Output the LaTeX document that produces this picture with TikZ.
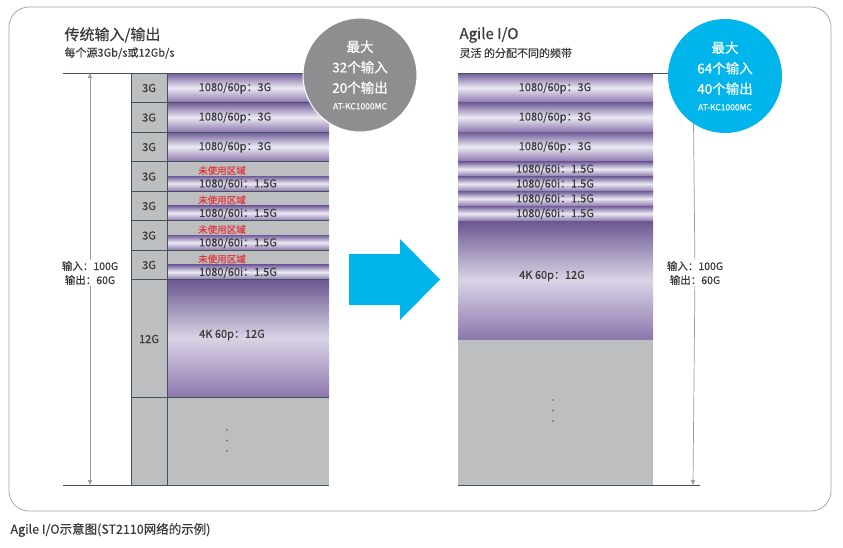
\documentclass[tikz,border=0pt]{standalone}
\usepackage{fontspec}
\setmainfont{Noto Sans CJK SC}[FakeBold=0.5]
\usetikzlibrary{arrows.meta}

\definecolor{bandDark}{HTML}{6F5B98}
\definecolor{bandLight}{HTML}{ECE9F3}
\definecolor{bandLow}{HTML}{8C77AE}
\definecolor{cellGray}{HTML}{BDBEC0}
\definecolor{rimDark}{HTML}{44525A}
\definecolor{textGray}{HTML}{3A3A3A}
\definecolor{unusedRed}{HTML}{E0353B}
\definecolor{maxGray}{HTML}{8E8E90}
\definecolor{maxBlue}{HTML}{00B5EC}
\definecolor{frameGray}{HTML}{A8A8A8}

\tikzset{
  band/.style={top color=bandDark, bottom color=bandLow, middle color=bandLight},
  bigband/.style={top color=bandDark!95!black, bottom color=bandLow, middle color=bandLight!85!bandDark},
  rim/.style={rimDark, line width=0.9pt},
  label/.style={text=textGray, font=\fontsize{11}{13}\selectfont, inner sep=0pt},
  unused/.style={text=unusedRed, font=\fontsize{9.5}{11}\selectfont, inner sep=0pt},
  dim/.style={gray!80, line width=0.7pt, -{Triangle[width=4pt,length=5pt]}},
  maxcircle/.style={circle, minimum size=114pt, text=white, align=center, inner sep=0pt,
    font=\fontsize{13.5}{20.5}\selectfont},
}

\begin{document}
\begin{tikzpicture}[x=1pt,y=-1pt]
    \useasboundingbox (0,0) rectangle (843,547);
    \draw [frameGray, line width=0.8pt, rounded corners=20pt] (9,7) rectangle (831,511);

    \node [anchor=west, text=textGray, font=\fontsize{15}{17}\selectfont] (ltitle) at (61,35) {传统输入/输出};
    \node [anchor=west, text=textGray, font=\fontsize{11}{13}\selectfont] (lsub) at (61,53) {每个源3Gb/s或12Gb/s};
    \node [anchor=west, text=textGray, font=\fontsize{15}{17}\selectfont] (rtitle) at (456,35) {Agile I/O};
    \node [anchor=west, text=textGray, font=\fontsize{11}{13}\selectfont] (rsub) at (456,53) {灵活 的分配不同的频带};

    % left: fixed 3G / 12G slots
    \fill [cellGray] (131,73) rectangle (329,485);
    \foreach \t [count=\i] in {73,102.5,132} {
        \shade [band] (167,\t) rectangle (329,\t+29.5);
        \node [label] (lrow\i) at (235,\t+15) {1080/60p：3G};
    }
    \foreach \t [count=\i from 4] in {161.5,191,220.5,250} {
        \shade [band] (167,\t+14.5) rectangle (329,\t+29.5);
        \node [unused] (lfree\i) at (222,\t+9) {未使用区域};
        \node [label] (lrow\i) at (238,\t+22.5) {1080/60i：1.5G};
    }
    \shade [bigband] (167,279.5) rectangle (329,397);
    \node [label] (lfour) at (232,335) {4K 60p：12G};
    \foreach \t [count=\i] in {73,102.5,132,161.5,191,220.5,250} {
        \node [label] (lcell\i) at (149,\t+15) {3G};
    }
    \node [label] (lcell8) at (149,339) {12G};
    \foreach \t in {102.5,132,161.5,191,220.5,250,279.5,397} {
        \draw [rim] (131,\t) -- (329,\t);
    }
    \draw [rimDark, line width=0.9pt] (131,73) -- (131,485);
    \draw [rimDark, line width=0.9pt] (167,73) -- (167,485);
    \draw [rim] (63,73) -- (329,73);
    \draw [rim] (63,485) -- (329,485);
    \foreach \d in {430,440.5,451} {
        \fill [gray!70!black] (227,\d) circle (0.9);
    }

    \node [label, align=center, fill=white, inner sep=1pt, font=\fontsize{10.5}{14}\selectfont] (lio) at (90,273) {输入：100G\\输出：60G};
    \coordinate (ltop) at (90,73);
    \coordinate (lbot) at (90,485);
    \draw [dim] (lio) -- (ltop);
    \draw [dim] (lio) -- (lbot);

    % right: agile bands
    \fill [cellGray] (458,73) rectangle (653,485);
    \foreach \t [count=\i] in {73,102.5,132} {
        \shade [band] (458,\t) rectangle (653,\t+29.5);
        \node [label] (rrow\i) at (555,\t+15) {1080/60p：3G};
    }
    \foreach \t [count=\i from 4] in {161.5,176.4,191.2,206} {
        \shade [band] (458,\t) rectangle (653,\t+14.9);
        \node [label] (rrow\i) at (555,\t+7.8) {1080/60i：1.5G};
    }
    \shade [bigband] (458,221) rectangle (653,339);
    \node [label] (rfour) at (552,276) {4K 60p：12G};
    \foreach \d in {400,410.5,421} {
        \fill [gray!70!black] (553,\d) circle (0.9);
    }
    \draw [rim] (458,73) -- (700,73);
    \draw [rim] (458,485) -- (700,485);

    \node [label, align=center, fill=white, inner sep=1pt, font=\fontsize{10.5}{14}\selectfont] (rio) at (695,273) {输入：100G\\输出：60G};
    \coordinate (rtop) at (693,73);
    \coordinate (rbot) at (693,485);
    \draw [dim] (rio) -- (rtop);
    \draw [dim] (rio) -- (rbot);

    \fill [maxBlue] (349,254) -- (400,254) -- (400,239) -- (440,279.5)
        -- (400,320) -- (400,305) -- (349,305) -- cycle;

    \node [maxcircle, fill=maxGray, draw=white, line width=1pt] (lmax) at (360,75)
        {最大\\32个输入\\20个输出\\[-4pt]{\fontsize{8.5}{10}\selectfont AT-KC1000MC}};
    \node [maxcircle, fill=maxBlue] (rmax) at (725,76)
        {最大\\64个输入\\40个输出\\[-4pt]{\fontsize{8.5}{10}\selectfont AT-KC1000MC}};

    \node [anchor=west, text=textGray, font=\fontsize{12.5}{15}\selectfont] (caption) at (7,530) {Agile I/O示意图(ST2110网络的示例)};
\end{tikzpicture}
\end{document}
